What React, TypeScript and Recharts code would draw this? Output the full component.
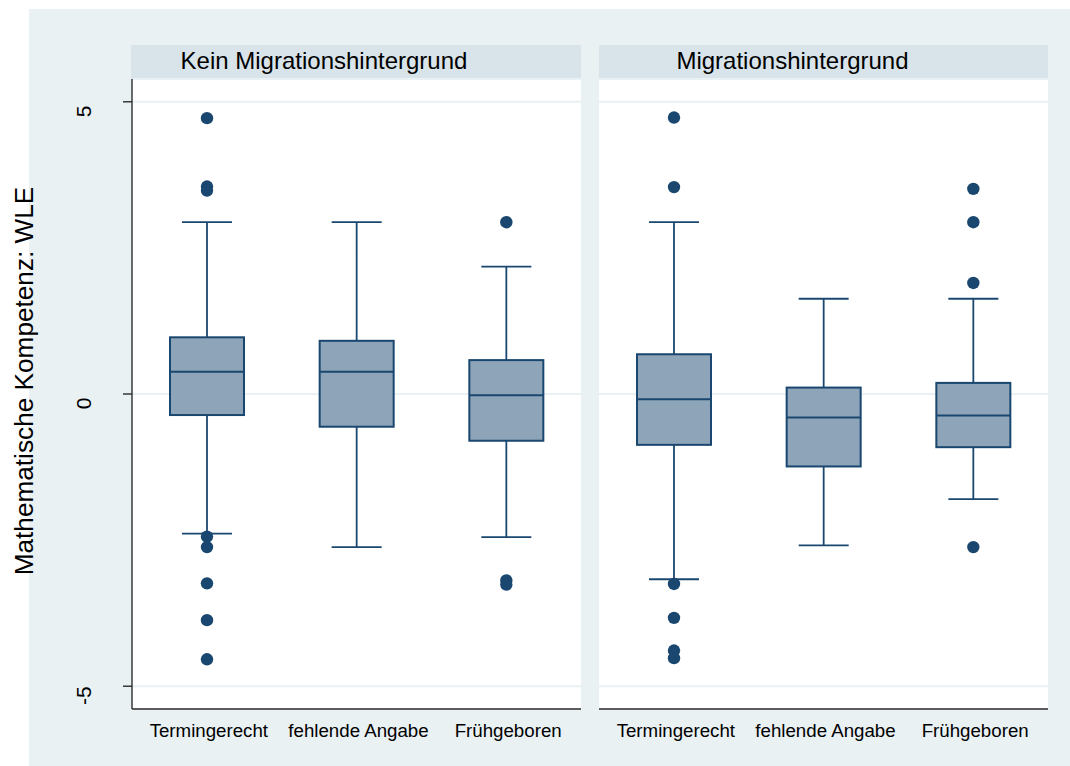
import { Bar, CartesianGrid, ComposedChart, XAxis, YAxis } from "recharts"

const categories = ["Termingerecht", "fehlende Angabe", "Frühgeboren"]
const panelTitles = ["Kein Migrationshintergrund", "Migrationshintergrund"]
const yTitle = "Mathematische Kompetenz: WLE"
const yTicks = [-5, 0, 5]
const yDomain: [number, number] = [-5.39, 5.39]

// Kein Migrationshintergrund: whisker ends, quartiles, median, outside values
const keinLower = [-2.39, -2.62, -2.45]
const keinQ1 = [-0.36, -0.56, -0.8]
const keinMedian = [0.38, 0.38, -0.02]
const keinQ3 = [0.97, 0.91, 0.58]
const keinUpper = [2.94, 2.94, 2.18]
const keinOutliers = [
  [4.72, 3.55, 3.48, -2.44, -2.62, -3.24, -3.87, -4.54],
  [],
  [2.94, -3.19, -3.26],
]

// Migrationshintergrund
const migLower = [-3.17, -2.59, -1.8]
const migQ1 = [-0.87, -1.24, -0.91]
const migMedian = [-0.09, -0.4, -0.37]
const migQ3 = [0.68, 0.11, 0.19]
const migUpper = [2.94, 1.63, 1.63]
const migOutliers = [
  [4.73, 3.54, -3.25, -3.83, -4.39, -4.52],
  [],
  [3.51, 2.94, 1.9, -2.62],
]

const FONT = '"Liberation Sans", Arial, Helvetica, sans-serif'
const NAVY = "#1a476f"
const BOX_FILL = "#8ea4b8"
const AXIS = "#2b2b2b"

type Row = {
  cat: string
  whisker: [number, number]
  q1: number
  median: number
  q3: number
  outliers: number[]
}

function buildRows(
  lower: number[],
  q1: number[],
  median: number[],
  q3: number[],
  upper: number[],
  outliers: number[][],
): Row[] {
  return categories.map((cat, i) => ({
    cat,
    whisker: [lower[i], upper[i]],
    q1: q1[i],
    median: median[i],
    q3: q3[i],
    outliers: outliers[i],
  }))
}

const keinRows = buildRows(keinLower, keinQ1, keinMedian, keinQ3, keinUpper, keinOutliers)
const migRows = buildRows(migLower, migQ1, migMedian, migQ3, migUpper, migOutliers)

// The bar spans the whisker range; everything else is placed on the same scale.
function BoxShape(props: any) {
  const { x, y, width, height, payload } = props
  const row = payload as Row
  const [lo, hi] = row.whisker
  const top = Math.min(y, y + height)
  const bottom = Math.max(y, y + height)
  const toY = (v: number) => top + ((hi - v) / (hi - lo)) * (bottom - top)
  const cx = x + width / 2
  const capHalf = 25
  return (
    <g>
      <line x1={cx} x2={cx} y1={toY(hi)} y2={toY(row.q3)} stroke={NAVY} strokeWidth={1.8} />
      <line x1={cx} x2={cx} y1={toY(row.q1)} y2={toY(lo)} stroke={NAVY} strokeWidth={1.8} />
      <line x1={cx - capHalf} x2={cx + capHalf} y1={toY(hi)} y2={toY(hi)} stroke={NAVY} strokeWidth={1.8} />
      <line x1={cx - capHalf} x2={cx + capHalf} y1={toY(lo)} y2={toY(lo)} stroke={NAVY} strokeWidth={1.8} />
      <rect
        x={x}
        y={toY(row.q3)}
        width={width}
        height={toY(row.q1) - toY(row.q3)}
        fill={BOX_FILL}
        stroke={NAVY}
        strokeWidth={2}
      />
      <line x1={x} x2={x + width} y1={toY(row.median)} y2={toY(row.median)} stroke={NAVY} strokeWidth={2} />
      {row.outliers.map((v, i) => (
        <circle key={i} cx={cx} cy={toY(v)} r={6.2} fill={NAVY} />
      ))}
    </g>
  )
}

function YTick({ y, payload }: any) {
  const cy = y + 9.5
  return (
    <text
      x={91}
      y={cy}
      transform={`rotate(-90, 91, ${cy})`}
      textAnchor="middle"
      fontSize={21}
      fontFamily={FONT}
      fill="#000"
    >
      {payload.value}
    </text>
  )
}

function XTick({ x, y, payload }: any) {
  return (
    <text x={x + 2} y={y + 20} textAnchor="middle" fontSize={18.7} fontFamily={FONT} fill="#000">
      {payload.value}
    </text>
  )
}

function Panel({ rows, showY, left, width }: { rows: Row[]; showY: boolean; left: number; width: number }) {
  return (
    <ComposedChart
      width={width}
      height={766}
      data={rows}
      margin={{ top: 79, right: showY ? 19 : 0, bottom: 0, left: 0 }}
      style={{ position: "absolute", left, top: 0 }}
    >
      <CartesianGrid
        vertical={false}
        fill="#ffffff"
        fillOpacity={1}
        stroke="#eaf1f4"
        strokeWidth={2}
      />
      <XAxis
        dataKey="cat"
        type="category"
        height={57}
        interval={0}
        tickLine={false}
        axisLine={{ stroke: AXIS, strokeWidth: 1.4 }}
        tick={<XTick />}
      />
      <YAxis
        type="number"
        domain={yDomain}
        ticks={yTicks}
        allowDataOverflow
        hide={!showY}
        width={132}
        tickSize={9}
        tickLine={{ stroke: AXIS, strokeWidth: 1.4 }}
        axisLine={{ stroke: AXIS, strokeWidth: 1.4 }}
        tick={<YTick />}
      />
      <Bar dataKey="whisker" barSize={74} shape={<BoxShape />} isAnimationActive={false} />
    </ComposedChart>
  )
}

export default function App() {
  return (
    <div style={{ position: "absolute", left: 0, top: 0, width: 1070, height: 766, background: "#ffffff" }}>
      <svg width={1070} height={766} style={{ position: "absolute", left: 0, top: 0 }}>
        <rect x={29} y={9} width={1041} height={757} fill="#e9f1f3" />
        <rect x={131} y={45} width={450} height={34} fill="#d8e4ea" />
        <rect x={599} y={45} width={449} height={34} fill="#d8e4ea" />
        <text x={324} y={69} textAnchor="middle" fontSize={24} fontFamily={FONT} fill="#000">
          {panelTitles[0]}
        </text>
        <text x={792.5} y={69} textAnchor="middle" fontSize={24} fontFamily={FONT} fill="#000">
          {panelTitles[1]}
        </text>
        <text
          x={33}
          y={381}
          transform="rotate(-90, 33, 381)"
          textAnchor="middle"
          fontSize={26.2}
          fontFamily={FONT}
          fill="#000"
        >
          {yTitle}
        </text>
      </svg>
      <Panel rows={keinRows} showY left={0} width={600} />
      <Panel rows={migRows} showY={false} left={599} width={449} />
    </div>
  )
}
